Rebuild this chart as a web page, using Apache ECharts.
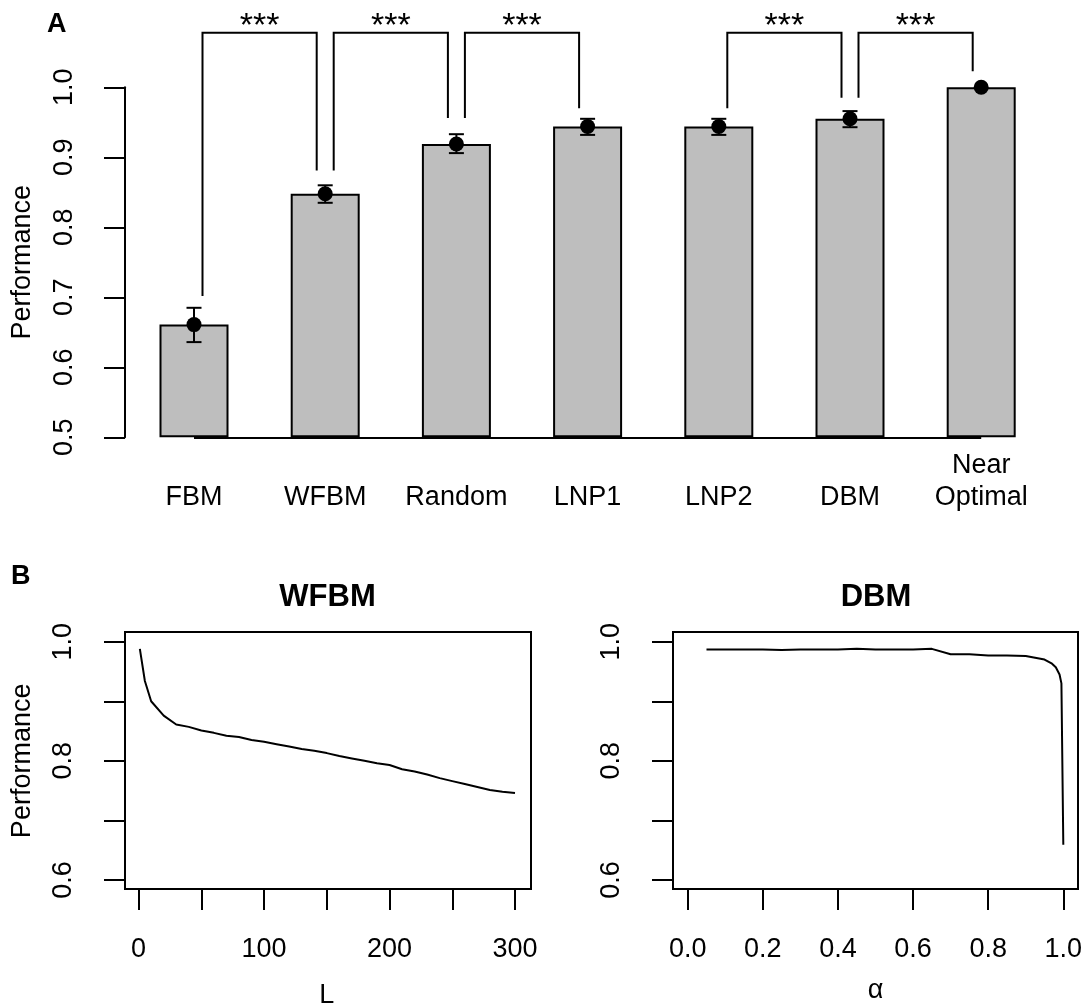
<!DOCTYPE html>
<html>
<head>
<meta charset="utf-8">
<script src="https://cdn.jsdelivr.net/npm/echarts@6/dist/echarts.min.js"></script>
<style>
  html, body { margin: 0; padding: 0; background: #ffffff; }
  #chart { width: 1086px; height: 1005px; }
</style>
</head>
<body>
<div id="chart"></div>
<script>
// ---- Panel A: mean performance per model, with error bars ----
const categories = ['FBM', 'WFBM', 'Random', 'LNP1', 'LNP2', 'DBM', 'Near\nOptimal'];
const meanPerf   = [0.661, 0.848, 0.919, 0.944, 0.944, 0.955, 1.000];
const errLow     = [0.636, 0.835, 0.906, 0.932, 0.932, 0.943, 1.000];
const errHigh    = [0.685, 0.860, 0.933, 0.955, 0.955, 0.966, 1.000];
const perfTicksA = [0.5, 0.6, 0.7, 0.8, 0.9, 1.0];

// significance brackets: pair of bar indices, leg end values, bracket height
const sigPairs   = [[0, 1], [1, 2], [2, 3], [4, 5], [5, 6]];
const sigLegEnds = [[0.702, 0.881], [0.881, 0.956], [0.956, 0.970], [0.970, 0.985], [0.985, 1.023]];
const sigTop     = 1.078;
const sigLabel   = '***';

// ---- Panel B: performance as a function of the model parameter ----
const wfbmL    = [1, 5, 10, 20, 30, 40, 50, 60, 70, 80, 90, 100, 110, 120, 130, 140, 150,
                  160, 170, 180, 190, 200, 210, 220, 230, 240, 250, 260, 270, 280, 290, 300];
const wfbmPerf = [0.988, 0.934, 0.900, 0.876, 0.861, 0.857, 0.851, 0.847, 0.842, 0.840, 0.835,
                  0.832, 0.828, 0.824, 0.820, 0.817, 0.813, 0.808, 0.804, 0.800, 0.796, 0.793,
                  0.786, 0.782, 0.777, 0.771, 0.766, 0.761, 0.756, 0.751, 0.748, 0.746];

const dbmAlpha = [0.05, 0.10, 0.15, 0.20, 0.25, 0.30, 0.35, 0.40, 0.45, 0.50, 0.55, 0.60, 0.65,
                  0.70, 0.75, 0.80, 0.85, 0.90, 0.95, 0.97, 0.98, 0.99, 0.995, 1.00];
const dbmPerf  = [0.987, 0.987, 0.987, 0.987, 0.986, 0.987, 0.987, 0.987, 0.988, 0.987, 0.987,
                  0.987, 0.988, 0.979, 0.979, 0.977, 0.977, 0.976, 0.970, 0.963, 0.957, 0.945,
                  0.930, 0.659];

const FONT = "'Liberation Sans', Arial, Helvetica, sans-serif";
const INK = '#000000';
const BAR_FILL = '#bebebe';
const LABEL_SIZE = 27;

const chart = echarts.init(document.getElementById('chart'), null, { renderer: 'canvas' });

function rotatedValueAxis(gridIndex, min, max, interval, offset, margin, formatter, name) {
  return {
    type: 'value', gridIndex, min, max, interval, offset,
    name: name || '',
    nameLocation: 'middle',
    nameGap: 88.5,
    nameTextStyle: { color: INK, fontFamily: FONT, fontSize: LABEL_SIZE },
    axisLine: { show: true, onZero: false, lineStyle: { color: INK, width: 2 } },
    axisTick: { show: true, inside: false, length: 21, lineStyle: { color: INK, width: 2 } },
    axisLabel: { show: true, rotate: 90, margin, color: INK, fontFamily: FONT, fontSize: LABEL_SIZE, formatter },
    splitLine: { show: false }
  };
}

function bottomValueAxis(gridIndex, min, max, interval, formatter, name, nameGap) {
  return {
    type: 'value', gridIndex, min, max, interval, offset: 9,
    name, nameLocation: 'middle', nameGap,
    nameTextStyle: { color: INK, fontFamily: FONT, fontSize: LABEL_SIZE },
    axisLine: { show: true, onZero: false, lineStyle: { color: INK, width: 2 } },
    axisTick: { show: true, inside: false, length: 21, lineStyle: { color: INK, width: 2 } },
    axisLabel: { show: true, margin: 47.5, color: INK, fontFamily: FONT, fontSize: LABEL_SIZE, formatter },
    splitLine: { show: false }
  };
}

const evenTenths = v => (Math.round(v * 10) % 2 === 0 ? v.toFixed(1) : '');

const option = {
  animation: false,
  backgroundColor: '#ffffff',
  textStyle: { fontFamily: FONT, color: INK },
  grid: [
    { left: 128.4, top: 87.3, width: 918.4, height: 350, containLabel: false, outerBoundsMode: 'none' },
    { left: 138.6, top: 641.7, width: 376.4, height: 238.3, containLabel: false, outerBoundsMode: 'none' },
    { left: 687.7, top: 641.7, width: 375.6, height: 238.3, containLabel: false, outerBoundsMode: 'none' }
  ],
  xAxis: [
    {
      type: 'category', gridIndex: 0, data: categories, boundaryGap: true,
      axisLine: { show: false, onZero: false }, axisTick: { show: false }, splitLine: { show: false },
      axisLabel: {
        interval: 0, margin: 76.5, verticalAlign: 'bottom', lineHeight: 32,
        color: INK, fontFamily: FONT, fontSize: LABEL_SIZE
      }
    },
    bottomValueAxis(1, 0, 300, 50, v => (v % 100 === 0 ? String(v) : ''), 'L', 93),
    bottomValueAxis(2, 0, 1, 0.2, v => v.toFixed(1), 'α', 88)
  ],
  yAxis: [
    Object.assign(
      rotatedValueAxis(0, perfTicksA[0], perfTicksA[perfTicksA.length - 1], 0.1, 3.4, 46.5,
        v => v.toFixed(1), 'Performance'),
      { startValue: perfTicksA[0] }
    ),
    rotatedValueAxis(1, 0.6, 1.0, 0.1, 13.6, 47.5, evenTenths, 'Performance'),
    rotatedValueAxis(2, 0.6, 1.0, 0.1, 14.7, 47.5, evenTenths, '')
  ],
  graphic: [
    { type: 'text', left: 47, top: 11, style: { text: 'A', fill: INK, font: 'bold 27px ' + FONT } },
    { type: 'text', left: 11, top: 563, style: { text: 'B', fill: INK, font: 'bold 27px ' + FONT } },
    { type: 'text', x: 327.5, y: 597, style: { text: 'WFBM', fill: INK, font: 'bold 31px ' + FONT, textAlign: 'center', textVerticalAlign: 'middle' } },
    { type: 'text', x: 876, y: 597, style: { text: 'DBM', fill: INK, font: 'bold 31px ' + FONT, textAlign: 'center', textVerticalAlign: 'middle' } },
    { type: 'rect', shape: { x: 125, y: 632, width: 406, height: 257 }, style: { fill: 'none', stroke: INK, lineWidth: 2 }, z: 0 },
    { type: 'rect', shape: { x: 673, y: 632, width: 405, height: 257 }, style: { fill: 'none', stroke: INK, lineWidth: 2 }, z: 0 }
  ],
  series: [
    {
      type: 'bar', xAxisIndex: 0, yAxisIndex: 0, data: meanPerf, barWidth: 69, clip: false,
      itemStyle: { color: BAR_FILL, borderColor: INK, borderWidth: 2, opacity: 1 },
      markLine: {
        silent: true, symbol: 'none', label: { show: false },
        lineStyle: { color: INK, width: 2, type: 'solid', opacity: 1 },
        data: [[{ coord: [0, perfTicksA[0]] }, { coord: [categories.length - 1, perfTicksA[0]] }]]
      },
      z: 2
    },
    {
      type: 'custom', xAxisIndex: 0, yAxisIndex: 0, clip: false, z: 3,
      data: meanPerf.map((m, i) => [i, errLow[i], errHigh[i]]),
      renderItem: function (params, api) {
        const lo = api.coord([api.value(0), api.value(1)]);
        const hi = api.coord([api.value(0), api.value(2)]);
        if (Math.abs(lo[1] - hi[1]) < 0.5) return { type: 'group', children: [] };
        const x = lo[0], cap = 7.5;
        const st = { stroke: INK, lineWidth: 2 };
        return {
          type: 'group', children: [
            { type: 'line', shape: { x1: x, y1: lo[1], x2: x, y2: hi[1] }, style: st },
            { type: 'line', shape: { x1: x - cap, y1: lo[1], x2: x + cap, y2: lo[1] }, style: st },
            { type: 'line', shape: { x1: x - cap, y1: hi[1], x2: x + cap, y2: hi[1] }, style: st }
          ]
        };
      }
    },
    {
      type: 'scatter', xAxisIndex: 0, yAxisIndex: 0, data: meanPerf, clip: false,
      symbol: 'circle', symbolSize: 15, itemStyle: { color: INK, opacity: 1 }, z: 4
    },
    {
      type: 'custom', xAxisIndex: 0, yAxisIndex: 0, clip: false, z: 4,
      data: sigPairs.map((p, k) => [p[0], p[1], sigLegEnds[k][0], sigLegEnds[k][1], sigTop]),
      renderItem: function (params, api) {
        const a = api.coord([api.value(0), api.value(2)]);
        const b = api.coord([api.value(1), api.value(3)]);
        const t = api.coord([api.value(0), api.value(4)]);
        const inset = 8.5;
        const lx = a[0] + inset, rx = b[0] - inset;
        return {
          type: 'group', children: [
            {
              type: 'polyline',
              shape: { points: [[lx, a[1]], [lx, t[1]], [rx, t[1]], [rx, b[1]]] },
              style: { stroke: INK, lineWidth: 2, fill: 'none' }
            },
            {
              type: 'text', x: (lx + rx) / 2, y: t[1] - 6,
              style: { text: sigLabel, fill: INK, font: '34px ' + FONT, textAlign: 'center', textVerticalAlign: 'middle' }
            }
          ]
        };
      }
    },
    {
      type: 'line', xAxisIndex: 1, yAxisIndex: 1, showSymbol: false, symbol: 'none',
      data: wfbmL.map((l, i) => [l, wfbmPerf[i]]),
      lineStyle: { color: INK, width: 2, opacity: 1 }
    },
    {
      type: 'line', xAxisIndex: 2, yAxisIndex: 2, showSymbol: false, symbol: 'none',
      data: dbmAlpha.map((a, i) => [a, dbmPerf[i]]),
      lineStyle: { color: INK, width: 2, opacity: 1 }
    }
  ]
};

chart.setOption(option);
</script>
</body>
</html>
